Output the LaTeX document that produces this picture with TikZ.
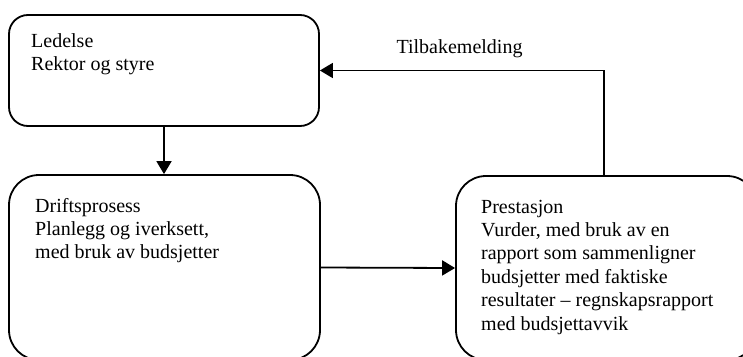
\documentclass[tikz,border=0pt]{standalone}
\usepackage{fontspec}
\setmainfont{Liberation Serif}
\usetikzlibrary{arrows.meta}
\begin{document}
\begin{tikzpicture}[x=1pt,y=-1pt,
  boxshape/.style={draw, line width=1.8pt, rectangle, inner sep=0pt},
  boxtext/.style={anchor=base west, inner sep=0pt, align=left,
    font=\fontsize{20}{23.4}\selectfont},
  conn/.style={line width=1.8pt, -{Triangle[length=13pt,width=15pt]}}]
\useasboundingbox (0,0) rectangle (743,356);
\clip (0,0) rectangle (743,356);
\fill[white] (0,0) rectangle (743,356);
\node[boxshape, rounded corners=19pt, minimum width=310pt, minimum height=111pt] (b1) at (164,70.5) {};
\node[boxshape, rounded corners=30pt, minimum width=311pt, minimum height=185pt] (b2) at (164.5,267.5) {};
\node[boxshape, rounded corners=30pt, minimum width=301pt, minimum height=184pt] (b3) at (606.5,268) {};
\node[boxtext] (t1) at (31,70.4) {Ledelse\\Rektor og styre};
\node[boxtext] (t2) at (35,258.8) {Driftsprosess\\Planlegg og iverksett,\\med bruk av budsjetter};
\node[boxtext] (t3) at (481,330) {Prestasjon\\Vurder, med bruk av en\\rapport som sammenligner\\budsjetter med faktiske\\resultater – regnskapsrapport\\med budsjettavvik};
\node[anchor=base, inner sep=0pt, font=\fontsize{20}{23.4}\selectfont] (lab) at (459.5,53) {Tilbakemelding};
\draw[conn] (b1.south) -- (b1.south |- b2.north);
\draw[conn] (b2.east) -- (b3.west);
\coordinate (up) at ([xshift=-2.5pt]b3.north);
\draw[conn] (up) |- (b1.east);
\end{tikzpicture}
\end{document}
